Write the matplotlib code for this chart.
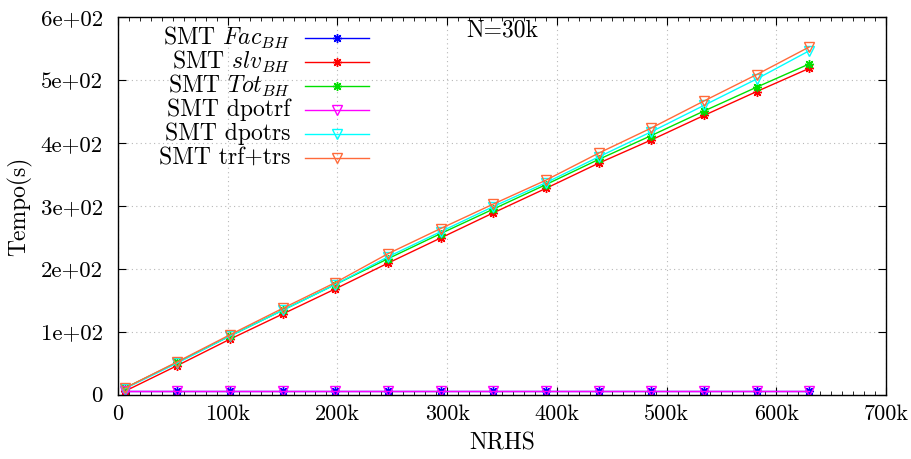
import numpy as np
import matplotlib
matplotlib.use("Agg")
import matplotlib.pyplot as plt
from matplotlib.lines import Line2D

plt.rcParams["font.family"] = "serif"
plt.rcParams["font.serif"] = ["cmr10"]
plt.rcParams["mathtext.fontset"] = "cm"
plt.rcParams["axes.formatter.use_mathtext"] = True

# NRHS (in thousands) and timings in seconds, N=30k
nrhs = [6, 54, 102, 150, 198, 246, 294, 342, 390, 438, 486, 534, 582, 630]
fac_bh = [6, 6, 6, 6, 6, 6, 6, 6, 6, 6, 6, 6, 6, 6]
slv_bh = [5, 46, 88, 128, 168, 209, 249, 289, 328, 368, 405, 444, 482, 519]
tot_bh = [10, 51, 93, 134, 175, 216, 256, 295, 334, 374, 412, 451, 489, 526]
dpotrf = [5, 5, 5, 5, 5, 5, 5, 5, 5, 5, 5, 5, 5, 5]
dpotrs = [9, 50, 93, 134, 175, 219, 259, 299, 337, 378, 418, 460, 502, 547]
trf_trs = [10, 52, 95, 137, 178, 224, 264, 303, 341, 384, 424, 467, 509, 553]

series = [
    ("SMT $Fac_{BH}$", fac_bh, "#0000ff", (8, 2, 0)),
    ("SMT $slv_{BH}$", slv_bh, "#ff0000", (8, 2, 0)),
    ("SMT $Tot_{BH}$", tot_bh, "#00e000", (8, 2, 0)),
    ("SMT dpotrf", dpotrf, "#ff00ff", "v"),
    ("SMT dpotrs", dpotrs, "#00ffff", "v"),
    ("SMT trf+trs", trf_trs, "#ff6a3a", "v"),
]

fig = plt.figure(figsize=(9.11, 4.59), dpi=100)
ax = fig.add_axes([0.1295, 0.1405, 0.8431, 0.8215])

x = np.array(nrhs) * 1000
for label, vals, color, marker in series:
    ax.plot(x, vals, color=color, lw=1.0, marker=marker, ms=6.5,
            mfc="none", mec=color, mew=1.0)

ax.set_xlim(0, 700000)
ax.set_ylim(0, 600)
xt = np.arange(0, 700001, 100000)
ax.set_xticks(xt)
ax.set_xticklabels(["0"] + [f"{v // 1000}k" for v in xt[1:]])
ax.set_xticks(np.arange(0, 700001, 10000), minor=True)
yt = np.arange(0, 601, 100)
ax.set_yticks(yt)
ax.set_yticklabels(["0", "1e+02", "2e+02", "3e+02", "4e+02", "5e+02", "6e+02"])

ax.tick_params(which="both", direction="in", top=True, right=True)
ax.tick_params(axis="x", labelsize=16, pad=7)
ax.tick_params(axis="y", labelsize=16.5, pad=11)
ax.tick_params(which="major", length=6, width=0.8)
ax.tick_params(which="minor", length=3, width=0.6)
ax.grid(True, which="major", color="#b8b8b8", ls=(0, (1, 3)), lw=0.8)
for s in ax.spines.values():
    s.set_linewidth(1.0)

ax.set_xlabel("NRHS", fontsize=17, labelpad=6)
ax.set_ylabel("Tempo(s)", fontsize=17, labelpad=6)

ax.text(350000, 580, "N=30k", fontsize=17, ha="center", va="center")

# gnuplot-style key: right-aligned text with the sample to its right
for i, (label, vals, color, marker) in enumerate(series):
    yk = 0.945 - i * 0.0635
    ax.text(0.224, yk, label, transform=ax.transAxes, fontsize=17,
            ha="right", va="center")
    ax.add_line(Line2D([0.243, 0.327], [yk, yk], transform=ax.transAxes,
                       color=color, lw=1.0))
    ax.add_line(Line2D([0.285], [yk], transform=ax.transAxes, color=color,
                       marker=marker, ms=6.5, mfc="none", mec=color, mew=1.0))

fig.savefig("out.png", dpi=100)
